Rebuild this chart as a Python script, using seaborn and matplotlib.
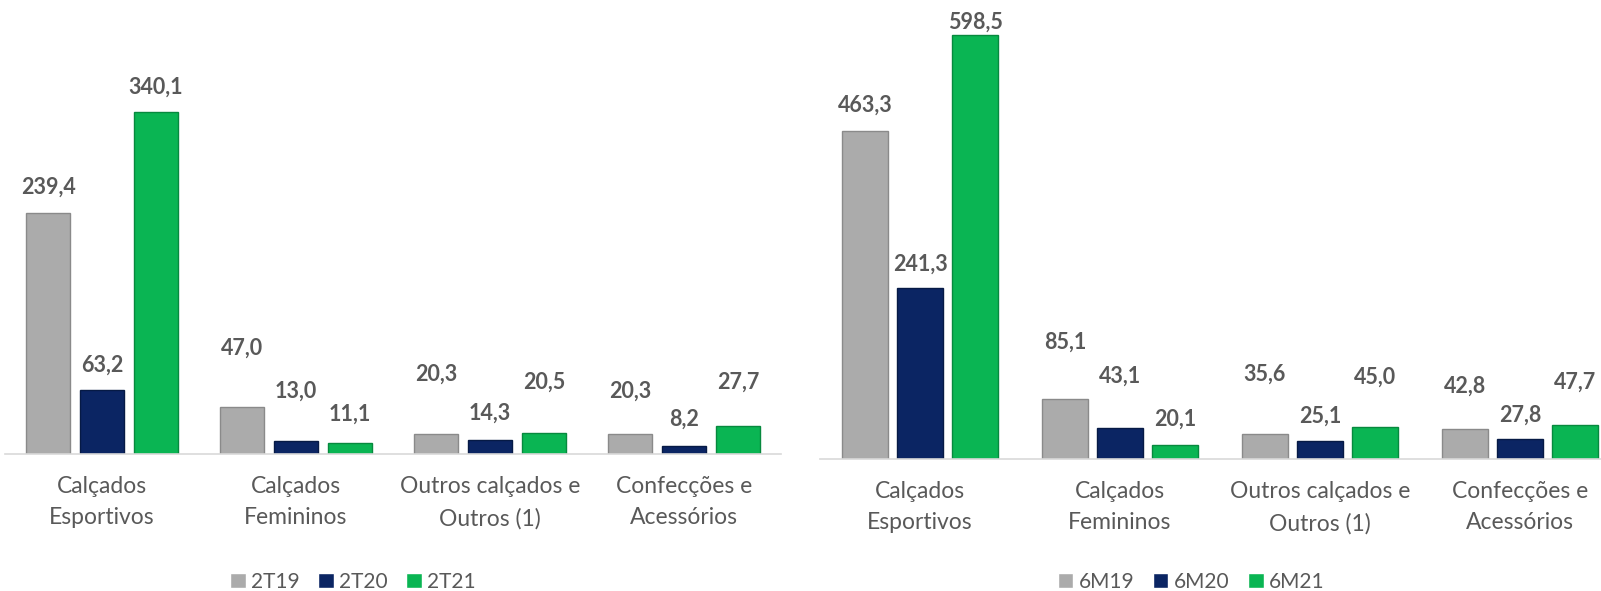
import pandas as pd
import matplotlib
matplotlib.use("Agg")
import matplotlib.pyplot as plt
import seaborn as sns

# categories (shared by both panels)
categorias = ["Calçados\nEsportivos", "Calçados\nFemininos",
              "Outros calçados e\nOutros (1)", "Confecções e\nAcessórios"]

# left panel: quarter
tri_labels = ["2T19", "2T20", "2T21"]
tri_2t19 = [239.4, 47.0, 20.3, 20.3]
tri_2t20 = [63.2, 13.0, 14.3, 8.2]
tri_2t21 = [340.1, 11.1, 20.5, 27.7]

# right panel: semester
sem_labels = ["6M19", "6M20", "6M21"]
sem_6m19 = [463.3, 85.1, 35.6, 42.8]
sem_6m20 = [241.3, 43.1, 25.1, 27.8]
sem_6m21 = [598.5, 20.1, 45.0, 47.7]

# label lift above bar top (px), per series, as placed in the original
tri_lift = [[26, 59, 59, 42], [25, 50, 26, 27], [25, 29, 51, 44]]
sem_lift = [[26, 57, 60, 42], [24, 52, 25, 24], [13, 26, 50, 43]]

cores = ["#ababab", "#0b2563", "#0ab553"]
bordas = ["#8a8a8a", "#061a45", "#07893e"]
txt = "#595959"


def long_df(series, labels):
    rows = []
    for lab, vals in zip(labels, series):
        for cat, v in zip(categorias, vals):
            rows.append({"categoria": cat, "periodo": lab, "valor": v})
    return pd.DataFrame(rows)


def painel(fig, rect, series, labels, lift, ytop, width, gap, leg_xy):
    ax = fig.add_axes(rect)
    df = long_df(series, labels)
    sns.barplot(data=df, x="categoria", y="valor", hue="periodo",
                palette=cores, width=width, gap=gap, ax=ax, saturation=1)
    for cont, edge in zip(ax.containers, bordas):
        for b in cont:
            b.set_edgecolor(edge)
            b.set_linewidth(1.0)
    for cont, offs in zip(ax.containers, lift):
        for b, off in zip(cont, offs):
            v = b.get_height()
            ax.annotate(f"{v:.1f}".replace(".", ","),
                        xy=(b.get_x() + b.get_width() / 2, v),
                        xytext=(0, off * 0.72), textcoords="offset points",
                        ha="center", va="center", fontsize=15.5,
                        fontweight="bold", color=txt, annotation_clip=False)
    ax.set_xlim(-0.5, 3.5)
    ax.set_ylim(0, ytop)
    ax.set_xlabel("")
    ax.set_ylabel("")
    ax.set_yticks([])
    ax.tick_params(axis="x", length=0, pad=16, labelsize=16.5, labelcolor=txt)
    for t in ax.get_xticklabels():
        t.set_linespacing(1.6)
    for s in ["top", "right", "left"]:
        ax.spines[s].set_visible(False)
    ax.spines["bottom"].set_color("#d9d9d9")
    ax.spines["bottom"].set_linewidth(1.2)
    ax.patch.set_alpha(0)
    handles, labs = ax.get_legend_handles_labels()
    ax.legend(handles, labs, loc="center", ncol=3, frameon=False,
              bbox_to_anchor=leg_xy, bbox_transform=fig.transFigure,
              fontsize=15, labelcolor=txt, handlelength=0.75,
              handleheight=0.75, handletextpad=0.25, columnspacing=0.9)
    return ax


sns.set_style("white")
plt.rcParams["font.family"] = ["Lato", "DejaVu Sans"]

W, H = 1601, 591
fig = plt.figure(figsize=(W / 100, H / 100), dpi=100)

painel(fig, [5 / W, 1 - 454 / H, 776 / W, 454 / H],
       [tri_2t19, tri_2t20, tri_2t21], tri_labels, tri_lift,
       451.7, 0.835, 0.2, (353 / W, 1 - 582 / H))
painel(fig, [820 / W, 1 - 459 / H, 800 / W, 459 / H],
       [sem_6m19, sem_6m20, sem_6m21], sem_labels, sem_lift,
       648, 0.825, 0.18, (1191 / W, 1 - 582 / H))

fig.savefig("out.png", dpi=100)
